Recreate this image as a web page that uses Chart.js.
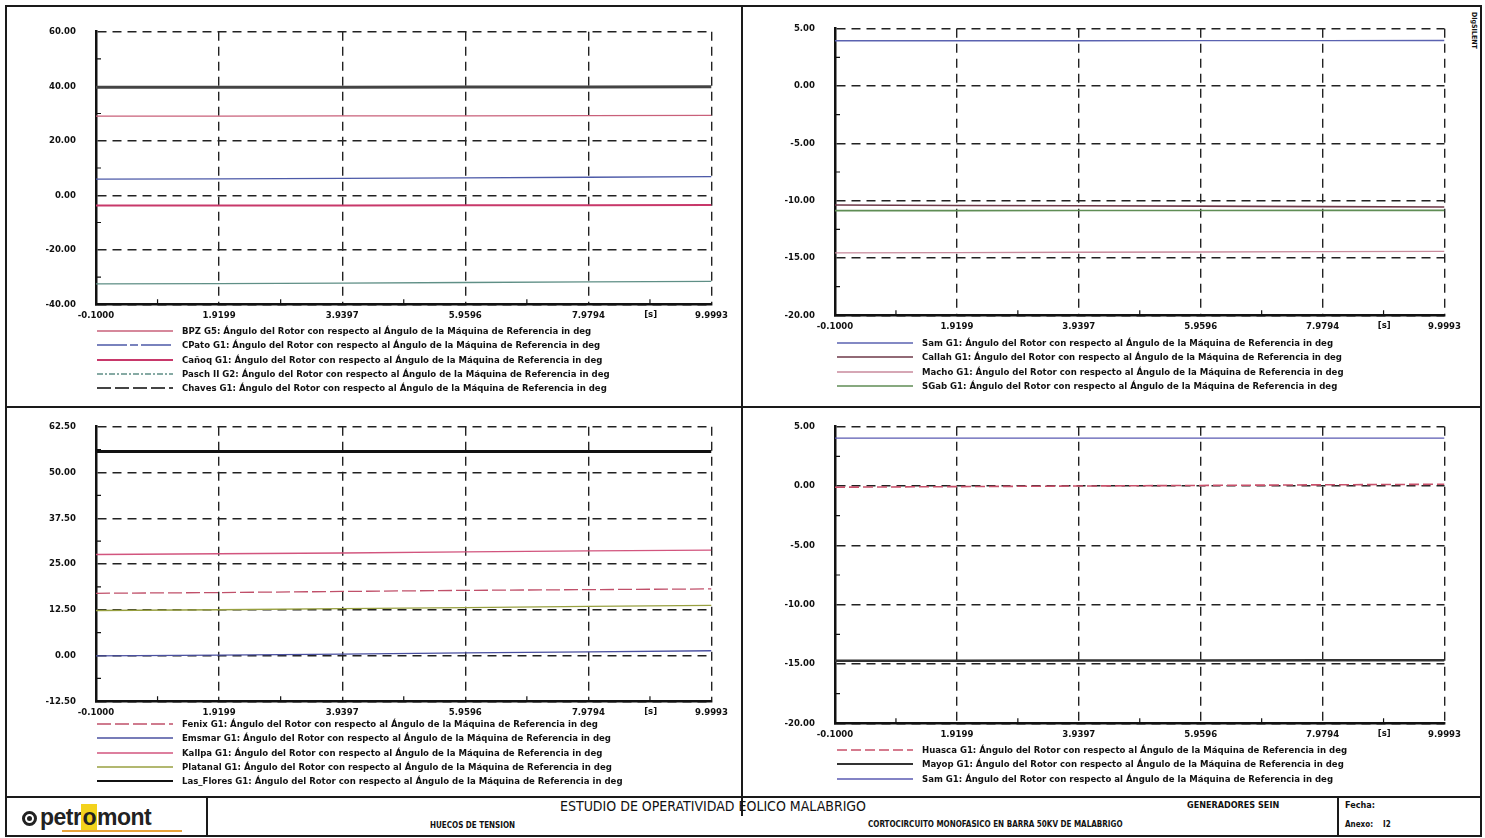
<!DOCTYPE html>
<html>
<head>
<meta charset="utf-8">
<script src="https://cdn.jsdelivr.net/npm/chart.js@4.4.1/dist/chart.umd.min.js"></script>
<style>
  html, body { margin: 0; padding: 0; background: #fff; }
  #sheet { position: relative; width: 1485px; height: 838px; overflow: hidden; background: #fff;
           font-family: "Liberation Sans Narrow", "Arial Narrow", "DejaVu Sans Condensed", sans-serif; color: #111; }
  .ln { position: absolute; background: #1a1a1a; }
  canvas { position: absolute; }
  .legend { position: absolute; font-weight: bold; font-size: 9.5px; line-height: 14.3px; white-space: nowrap; }
  .legend .row { position: relative; height: 14.3px; }
  .legend svg { position: absolute; left: 0; top: 5px; }
  .legend span { position: absolute; left: 85px; top: 0; }
  .txt { position: absolute; white-space: nowrap; }
</style>
</head>
<body>
<div id="sheet">
  <div class="ln" style="left:5px;top:5px;width:1476px;height:2px"></div>
  <div class="ln" style="left:5px;top:835px;width:1476px;height:2px"></div>
  <div class="ln" style="left:5px;top:5px;width:2px;height:832px"></div>
  <div class="ln" style="left:1480px;top:5px;width:2px;height:832px"></div>
  <div class="ln" style="left:741px;top:5px;width:2px;height:811px"></div>
  <div class="ln" style="left:5px;top:406px;width:1476px;height:2px"></div>
  <div class="ln" style="left:5px;top:796px;width:1476px;height:2px"></div>
  <div class="ln" style="left:206px;top:796px;width:1.5px;height:40px"></div>
  <div class="ln" style="left:1337px;top:796px;width:1.5px;height:40px"></div>

  <canvas id="chartTL" width="718" height="324" style="left:16px;top:6px"></canvas>
  <canvas id="chartTR" width="712" height="338" style="left:755px;top:3px"></canvas>
  <canvas id="chartBL" width="718" height="326" style="left:16px;top:401px"></canvas>
  <canvas id="chartBR" width="712" height="348" style="left:755px;top:401px"></canvas>

  <div class="legend" id="legendTL" style="left:97px;top:324px"></div>
  <div class="legend" id="legendTR" style="left:837px;top:336px"></div>
  <div class="legend" id="legendBL" style="left:97px;top:717px"></div>
  <div class="legend" id="legendBR" style="left:837px;top:743px"></div>

  <div class="txt" style="top:12px;left:1478px;font-size:7px;font-weight:bold;transform:rotate(90deg);transform-origin:0 0">DIgSILENT</div>

  <!-- title block -->
  <div class="txt" style="left:22px;top:804px;font-family:'Liberation Sans',Arial,sans-serif;font-weight:bold;font-size:23px;letter-spacing:-0.5px;color:#222">
    <span style="display:inline-block;width:15px;height:15px;border:3px solid #222;border-radius:50%;box-sizing:border-box;vertical-align:-1px;position:relative;margin-right:3px"><span style="position:absolute;left:2px;top:2px;width:5px;height:5px;border-radius:50%;background:#222"></span></span>petr<span style="background:#f3d21c;padding:0 1px">o</span>mont
  </div>
  <div class="ln" style="left:62px;top:830px;width:120px;height:2px;background:#e8a33a"></div>
  <div class="txt" style="left:560px;top:798px;font-size:14px;">ESTUDIO DE OPERATIVIDAD EOLICO MALABRIGO</div>
  <div class="txt" style="left:430px;top:821px;font-size:8px;font-weight:bold;">HUECOS DE TENSION</div>
  <div class="txt" style="left:868px;top:820px;font-size:8px;font-weight:bold;">CORTOCIRCUITO MONOFASICO EN BARRA 50KV DE MALABRIGO</div>
  <div class="txt" style="left:1187px;top:800px;font-size:9px;font-weight:bold;">GENERADORES SEIN</div>
  <div class="txt" style="left:1345px;top:800px;font-size:9px;font-weight:bold;">Fecha:</div>
  <div class="txt" style="left:1345px;top:820px;font-size:8px;font-weight:bold;">Anexo:&nbsp;&nbsp;&nbsp;&nbsp;I2</div>
</div>

<script>
// time axis (s)
var timeTicks = [-0.1, 1.91986, 3.93972, 5.95958, 7.97944, 9.9993];
var xTickLabels = ['-0.1000', '1.9199', '3.9397', '5.9596', '7.9794', '9.9993'];

// top-left panel: rotor angles (deg)
var bpzG5 = [29.0, 29.0, 29.1, 29.1, 29.2, 29.3];
var cpatoG1 = [5.9, 6.0, 6.2, 6.4, 6.6, 6.8];
var canoqG1 = [-3.8, -3.8, -3.8, -3.7, -3.7, -3.6];
var paschG2 = [-32.5, -32.4, -32.2, -32.0, -31.8, -31.6];
var chavesG1 = [39.6, 39.6, 39.6, 39.7, 39.7, 39.8];

// top-right panel
var samG1 = [3.95, 3.95, 3.95, 3.96, 3.96, 3.97];
var callahG1 = [-10.38, -10.42, -10.45, -10.48, -10.52, -10.55];
var machoG1 = [-14.55, -14.53, -14.5, -14.48, -14.45, -14.42];
var sgabG1 = [-10.87, -10.87, -10.86, -10.86, -10.85, -10.85];

// bottom-left panel
var fenixG1 = [17.0, 17.2, 17.5, 17.8, 18.0, 18.2];
var emsmarG1 = [-0.1, 0.1, 0.4, 0.7, 1.0, 1.3];
var kallpaG1 = [27.6, 27.8, 28.0, 28.3, 28.6, 28.8];
var platanalG1 = [12.3, 12.5, 12.8, 13.1, 13.4, 13.7];
var lasFloresG1 = [55.7, 55.7, 55.7, 55.7, 55.7, 55.7];

// bottom-right panel
var huascaG1 = [-0.1, -0.05, 0.0, 0.05, 0.1, 0.15];
var mayopG1 = [-14.73, -14.72, -14.71, -14.7, -14.69, -14.68];
var samG1b = [4.03, 4.03, 4.03, 4.03, 4.03, 4.03];

var suffix = ': Ángulo del Rotor con respecto al Ángulo de la Máquina de Referencia in deg';

var tickFont = { family: '"Liberation Sans Narrow", "Arial Narrow", "DejaVu Sans Condensed", sans-serif', size: 9.5, weight: 'bold' };

var axisMarks = {
    id: 'axisMarks',
    afterDraw: function (chart) {
        var ctx = chart.ctx, xs = chart.scales.x, ys = chart.scales.y, a = chart.chartArea;
        var i, p;
        ctx.save();
        ctx.strokeStyle = '#111';
        ctx.lineWidth = 1.2;
        ctx.beginPath();
        for (i = 0; i < ys.ticks.length - 1; i++) {
            p = ys.getPixelForValue((ys.ticks[i].value + ys.ticks[i + 1].value) / 2);
            ctx.moveTo(a.left, p); ctx.lineTo(a.left + 5, p);
        }
        for (i = 0; i < xs.ticks.length - 1; i++) {
            p = xs.getPixelForValue((xs.ticks[i].value + xs.ticks[i + 1].value) / 2);
            ctx.moveTo(p, a.bottom); ctx.lineTo(p, a.bottom - 5);
        }
        ctx.stroke();
        ctx.fillStyle = '#111';
        ctx.font = 'bold 9.5px ' + tickFont.family;
        ctx.textAlign = 'center';
        ctx.textBaseline = 'top';
        ctx.fillText('[s]', xs.getPixelForValue(9.0), a.bottom + 5);
        ctx.restore();
    }
};

function toPoints(values) {
    return values.map(function (v, i) { return { x: timeTicks[i], y: v }; });
}

function makeChart(id, series, yMin, yMax, yStep) {
    var canvas = document.getElementById(id);
    return new Chart(canvas, {
        type: 'line',
        data: {
            datasets: series.map(function (s) {
                return {
                    label: s.name,
                    data: toPoints(s.values),
                    borderColor: s.color,
                    borderWidth: s.width || 1.3,
                    borderDash: s.dash || [],
                    pointRadius: 0,
                    tension: 0,
                    fill: false
                };
            })
        },
        options: {
            responsive: false,
            animation: false,
            layout: { padding: { top: 10, right: 20, left: 0, bottom: 0 } },
            plugins: { legend: { display: false }, tooltip: { enabled: false } },
            scales: {
                x: {
                    type: 'linear',
                    min: timeTicks[0],
                    max: timeTicks[timeTicks.length - 1],
                    afterBuildTicks: function (s) {
                        s.ticks = timeTicks.map(function (v) { return { value: v }; });
                    },
                    afterFit: function (s) { s.height = 18; },
                    ticks: {
                        autoSkip: false, maxRotation: 0, padding: 6, color: '#111', font: tickFont,
                        callback: function (v, i) { return xTickLabels[i]; }
                    },
                    grid: { color: '#222', lineWidth: 1.4, drawTicks: false },
                    border: { display: true, color: '#111', width: 2.5, dash: [9, 6] }
                },
                y: {
                    min: yMin,
                    max: yMax,
                    afterFit: function (s) { s.width = 80; },
                    ticks: {
                        stepSize: yStep, padding: 20, color: '#111', font: tickFont,
                        callback: function (v) { return Number(v).toFixed(2); }
                    },
                    grid: { color: '#222', lineWidth: 1.4, drawTicks: false },
                    border: { display: true, color: '#111', width: 2.5, dash: [9, 6] }
                }
            }
        },
        plugins: [axisMarks]
    });
}

function makeLegend(id, series) {
    var el = document.getElementById(id);
    series.forEach(function (s) {
        var row = document.createElement('div');
        row.className = 'row';
        var dash = (s.legendDash || s.dash || []).join(',');
        row.innerHTML = '<svg width="76" height="4"><line x1="0" y1="2" x2="76" y2="2" stroke="' + s.color +
            '" stroke-width="' + Math.min(s.width || 1.3, 2) + '"' + (dash ? ' stroke-dasharray="' + dash + '"' : '') +
            '/></svg><span>' + s.name + suffix + '</span>';
        el.appendChild(row);
    });
}

var seriesTL = [
    { name: 'BPZ G5', values: bpzG5, color: '#c9607a' },
    { name: 'CPato G1', values: cpatoG1, color: '#4d5aa8', legendDash: [30, 3, 8, 3] },
    { name: 'Cañoq G1', values: canoqG1, color: '#c8386a', width: 2 },
    { name: 'Pasch II G2', values: paschG2, color: '#5f8f86', legendDash: [6, 2, 2, 2] },
    { name: 'Chaves G1', values: chavesG1, color: '#444', width: 3, legendDash: [14, 4] }
];
var seriesTR = [
    { name: 'Sam G1', values: samG1, color: '#5a62b0' },
    { name: 'Callah G1', values: callahG1, color: '#6e3848', width: 1.6 },
    { name: 'Macho G1', values: machoG1, color: '#c88a9c' },
    { name: 'SGab G1', values: sgabG1, color: '#5f8d55', width: 1.6 }
];
var seriesBL = [
    { name: 'Fenix G1', values: fenixG1, color: '#c0506a', dash: [14, 4] },
    { name: 'Emsmar G1', values: emsmarG1, color: '#4a50a0' },
    { name: 'Kallpa G1', values: kallpaG1, color: '#d2557e' },
    { name: 'Platanal G1', values: platanalG1, color: '#98a040' },
    { name: 'Las_Flores G1', values: lasFloresG1, color: '#111', width: 3 }
];
var seriesBR = [
    { name: 'Huasca G1', values: huascaG1, color: '#c8506a', dash: [10, 4], width: 1.6 },
    { name: 'Mayop G1', values: mayopG1, color: '#333', width: 2.5 },
    { name: 'Sam G1', values: samG1b, color: '#5a5ab2' }
];

makeChart('chartTL', seriesTL, -40, 60, 20);
makeChart('chartTR', seriesTR, -20, 5, 5);
makeChart('chartBL', seriesBL, -12.5, 62.5, 12.5);
makeChart('chartBR', seriesBR, -20, 5, 5);

makeLegend('legendTL', seriesTL);
makeLegend('legendTR', seriesTR);
makeLegend('legendBL', seriesBL);
makeLegend('legendBR', seriesBR);
</script>
</body>
</html>
